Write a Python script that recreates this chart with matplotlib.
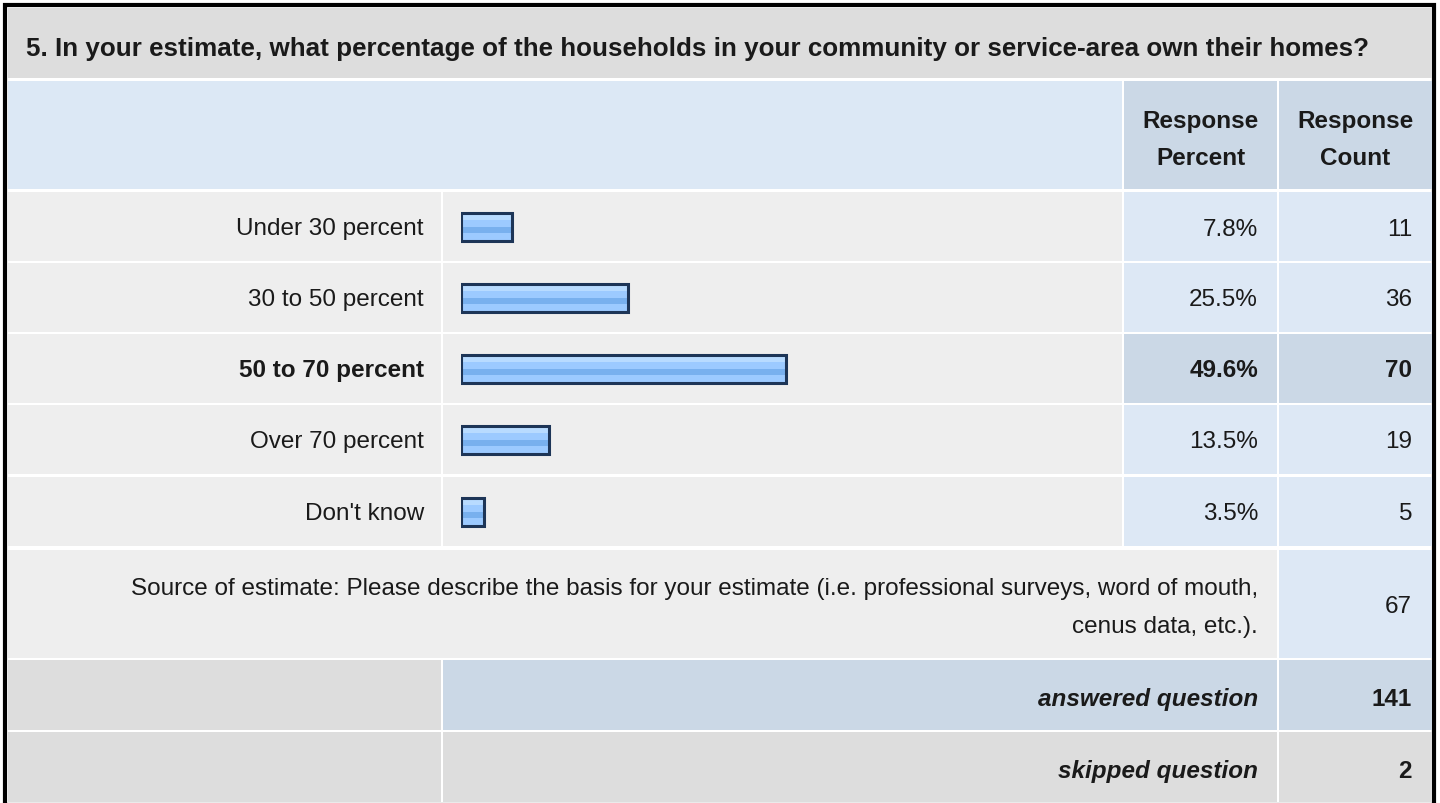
import matplotlib.pyplot as plt
from matplotlib.patches import Rectangle

plt.rcParams['font.family'] = ['Liberation Sans', 'DejaVu Sans']

title = "5. In your estimate, what percentage of the households in your community or service-area own their homes?"
choices = ["Under 30 percent", "30 to 50 percent", "50 to 70 percent", "Over 70 percent", "Don't know"]
percents = [7.8, 25.5, 49.6, 13.5, 3.5]
counts = [11, 36, 70, 19, 5]
highlight = "50 to 70 percent"
other_lines = ["Source of estimate: Please describe the basis for your estimate (i.e. professional surveys, word of mouth,",
               "cenus data, etc.)."]
other_count = 67
answered = 141
skipped = 2

W, H = 1440, 804
TITLE_BG = "#dddddd"
HEAD_BG = "#dce8f5"
HEAD_COL = "#cbd8e6"
ROW_BG = "#eeeeee"
VAL_BG = "#dde8f5"
FS = 17.5
TXT = '#1a1a1a'

fig = plt.figure(figsize=(W / 100, H / 100), dpi=100)
ax = fig.add_axes([0, 0, 1, 1])
ax.set_xlim(0, W)
ax.set_ylim(H, 0)
ax.axis('off')


def cell(x0, x1, y0, y1, color):
    ax.add_patch(Rectangle((x0, y0), x1 - x0, y1 - y0, facecolor=color, edgecolor='none'))


def txt(x, y, s, ha='right', **kw):
    ax.text(x, y, s, fontsize=kw.pop('fontsize', FS), ha=ha, va='baseline', color=TXT, **kw)


# column edges
c0, c1, c2, c3, c4 = 8, 441, 1122, 1277, 1432
gap = 2
xr_pct, xr_cnt = 1258, 1412

# outer border
ax.add_patch(Rectangle((5, 6), 1429, 800, facecolor='white', edgecolor='black', lw=3))

# title
cell(c0, c4, 9, 79, TITLE_BG)
txt(26, 56, title, ha='left', fontsize=18.7, fontweight='bold')

# header
cell(c0, c2, 82, 190, HEAD_BG)
cell(c2 + gap, c3, 82, 190, HEAD_COL)
cell(c3 + gap, c4, 82, 190, HEAD_COL)
for xc, words in [((c2 + c3) / 2 + 1, ["Response", "Percent"]), ((c3 + c4) / 2 + 1, ["Response", "Count"])]:
    txt(xc, 128, words[0], ha='center', fontweight='bold')
    txt(xc, 165, words[1], ha='center', fontweight='bold')

# answer rows
row_top = 193
row_h = 69
centers = []
for i, (lab, p, n) in enumerate(zip(choices, percents, counts)):
    y0 = row_top + i * (row_h + gap) + (1 if i == 4 else 0)
    y1 = y0 + row_h
    yc = (y0 + y1) / 2
    centers.append(yc)
    hl = lab == highlight
    vbg = HEAD_COL if hl else VAL_BG
    cell(c0, c1, y0, y1, ROW_BG)
    cell(c1 + gap, c2, y0, y1, ROW_BG)
    cell(c2 + gap, c3, y0, y1, vbg)
    cell(c3 + gap, c4, y0, y1, vbg)
    wt = 'bold' if hl else 'normal'
    txt(424, yc + 8, lab, fontweight=wt)
    txt(xr_pct, yc + 8, f"{p}%", fontweight=wt)
    txt(xr_cnt, yc + 8, str(n), fontweight=wt)

# other / source row
cell(c0, c3, 551, 659, ROW_BG)
cell(c3 + gap, c4, 551, 659, VAL_BG)
txt(xr_pct, 595, other_lines[0])
txt(xr_pct, 633, other_lines[1])
txt(xr_cnt, 613, str(other_count))

# answered row
cell(c0, c1, 661, 731, TITLE_BG)
cell(c1 + gap, c3, 661, 731, HEAD_COL)
cell(c3 + gap, c4, 661, 731, HEAD_COL)
txt(xr_pct, 706, "answered question", fontweight='bold', style='italic')
txt(xr_cnt, 706, str(answered), fontweight='bold')

# skipped row
cell(c0, c1, 733, 803, TITLE_BG)
cell(c1 + gap, c3, 733, 803, TITLE_BG)
cell(c3 + gap, c4, 733, 803, TITLE_BG)
txt(xr_pct, 778, "skipped question", fontweight='bold', style='italic')
txt(xr_cnt, 778, str(skipped), fontweight='bold')

# bars drawn on their own axes: 0-100 % across the bar column
bx0, bw = 461, 655
bax = fig.add_axes([bx0 / W, 0, bw / W, 1])
bax.set_xlim(0, 100)
bax.set_ylim(H, 0)
bax.axis('off')
bh = 28
# glossy look: base fill, light top, darker band
bax.barh(centers, percents, height=bh, color='#9ccaff', edgecolor='none')
bax.barh([c - bh * 0.36 for c in centers], percents, height=bh * 0.28, color='#b8dbff', edgecolor='none')
bax.barh([c + bh * 0.12 for c in centers], percents, height=bh * 0.2, color='#78b0ee', edgecolor='none')
bax.barh(centers, percents, height=bh, color='none', edgecolor='#1d3557', lw=2.2)

fig.savefig("out.png", dpi=100)
